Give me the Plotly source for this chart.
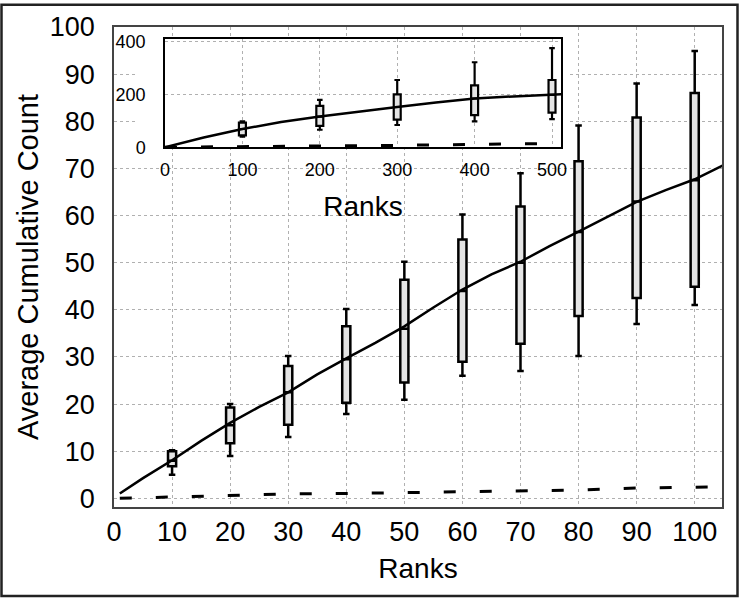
import plotly.graph_objects as go

# main plot: ranks 1..105
rank_x = [1, 5, 10, 15, 20, 25, 30, 35, 40, 45, 50, 55, 60, 65, 70, 75, 80, 85, 90, 95, 100, 105]
avg_count = [1.05, 4.3, 8.1, 12.2, 16.0, 19.4, 22.5, 26.3, 29.7, 33.0, 36.5, 40.5, 44.3,
             47.5, 50.2, 53.5, 56.6, 59.8, 62.9, 65.4, 67.7, 70.7]
base_x = [1, 10, 20, 30, 40, 50, 60, 70, 80, 90, 100, 103]
base_count = [0.0, 0.25, 0.6, 0.95, 1.05, 1.2, 1.35, 1.55, 1.75, 2.2, 2.35, 2.4]

box_x = [10, 20, 30, 40, 50, 60, 70, 80, 90, 100]
box_low = [5, 9, 13, 17.9, 20.9, 26, 27, 30.2, 37, 41]
box_q1 = [6.8, 11.7, 15.6, 20.3, 24.6, 29, 32.8, 38.7, 42.5, 44.9]
box_med = [8, 15.5, 22.5, 29.5, 36, 44, 50, 56.5, 63, 67.5]
box_q3 = [10, 19.3, 28.1, 36.5, 46.4, 54.9, 61.9, 71.5, 80.8, 86]
box_high = [10.2, 20, 30.2, 40.2, 50.2, 60.2, 69, 79.1, 88, 94.9]

# inset: ranks 0..512
in_x = [0, 50, 100, 150, 200, 250, 300, 350, 400, 450, 500, 512]
in_count = [0, 37, 69, 95, 116, 135, 152, 169, 184, 192, 198, 200]
in_base_x = [0, 100, 200, 300, 400, 500]
in_base = [0, 2, 4, 7, 11, 14]

in_box_x = [100, 200, 300, 400, 500]
in_low = [40, 66, 84, 97.5, 106]
in_q1 = [45, 81, 104, 121, 131]
in_med = [69, 116, 152, 184, 198]
in_q3 = [93, 156, 200, 234, 254]
in_high = [98, 179, 254, 321, 374]

FONT = "Liberation Sans, Arial, Helvetica, sans-serif"
BOXFILL = "#e4e4e4"
GRID = dict(showgrid=True, gridcolor="#b0b0b0", griddash="dot", gridwidth=1, zeroline=False)

fig = go.Figure()

# main
fig.add_trace(go.Box(x=box_x, q1=box_q1, median=box_med, q3=box_q3,
                     lowerfence=box_low, upperfence=box_high, width=1.4, whiskerwidth=0.8,
                     fillcolor=BOXFILL, line=dict(color="black", width=2.5),
                     boxpoints=False, hoverinfo="skip", showlegend=False))
fig.add_trace(go.Scatter(x=rank_x, y=avg_count, mode="lines",
                         line=dict(color="black", width=2.5), showlegend=False))
fig.add_trace(go.Scatter(x=base_x, y=base_count, mode="lines",
                         line=dict(color="black", width=3, dash="12px,24px"), showlegend=False))

# white patch behind inset (hides main grid around the inset box)
fig.add_trace(go.Scatter(x=[], y=[], xaxis="x2", yaxis="y2", showlegend=False))

# inset
fig.add_trace(go.Box(x=in_box_x, q1=in_q1, median=in_med, q3=in_q3,
                     lowerfence=in_low, upperfence=in_high, width=9, whiskerwidth=0.8,
                     fillcolor=BOXFILL, line=dict(color="black", width=2.2),
                     boxpoints=False, hoverinfo="skip", showlegend=False,
                     xaxis="x3", yaxis="y3"))
fig.add_trace(go.Scatter(x=in_x, y=in_count, mode="lines", xaxis="x3", yaxis="y3",
                         line=dict(color="black", width=2.5), showlegend=False))
fig.add_trace(go.Scatter(x=in_base_x, y=in_base, mode="lines", xaxis="x3", yaxis="y3",
                         line=dict(color="black", width=3, dash="12px,24px"), showlegend=False))

W, H = 741, 598
L, R, T, B = 114, 19, 24, 91
pw, ph = W - L - R, H - T - B


def px_x(p):
    return (p - L) / pw


def px_y(p):
    return (H - B - p) / ph


fig.update_layout(
    width=W, height=H,
    margin=dict(l=L, r=R, t=T, b=B),
    paper_bgcolor="white", plot_bgcolor="white",
    font=dict(family=FONT, color="black"),
    xaxis=dict(range=[0, 104.7], tickvals=list(range(0, 101, 10)),
               tickfont=dict(size=27), ticks="", ticklabelstandoff=0,
               showline=True, mirror=True, linecolor="#444", linewidth=1.5,
               title=dict(text="Ranks", font=dict(size=28), standoff=12), **GRID),
    yaxis=dict(range=[-1.83, 100], tickvals=list(range(0, 101, 10)),
               tickfont=dict(size=27), ticks="", ticklabelstandoff=12,
               showline=True, mirror=True, linecolor="#444", linewidth=1.5,
               title=dict(text="Average Cumulative Count", font=dict(size=29), standoff=3), **GRID),
    xaxis2=dict(domain=[px_x(137), px_x(567)], anchor="y2", visible=False, range=[0, 1]),
    yaxis2=dict(domain=[px_y(145), px_y(36)], anchor="x2", visible=False, range=[0, 1]),
    xaxis3=dict(domain=[px_x(165), px_x(561)], anchor="y3", range=[0, 511.6],
                tickvals=[0, 100, 200, 300, 400, 500], tickfont=dict(size=18),
                ticks="", ticklabelstandoff=5,
                showline=True, mirror=True, linecolor="black", linewidth=1.5,
                title=dict(text="Ranks", font=dict(size=28), standoff=18), **GRID),
    yaxis3=dict(domain=[px_y(145), px_y(36)], anchor="x3", range=[0, 409],
                tickvals=[0, 200, 400], tickfont=dict(size=18),
                ticks="", ticklabelstandoff=14,
                showline=True, mirror=True, linecolor="black", linewidth=1.5, **GRID),
    shapes=[dict(type="rect", xref="paper", yref="paper",
                 x0=px_x(1.5), x1=px_x(737.5), y0=px_y(596.5), y1=px_y(1.5),
                 line=dict(color="#222", width=2.5), layer="above")],
)

fig.write_html("out.html", config={"displayModeBar": False},
               post_script="document.body.style.margin='0';")
